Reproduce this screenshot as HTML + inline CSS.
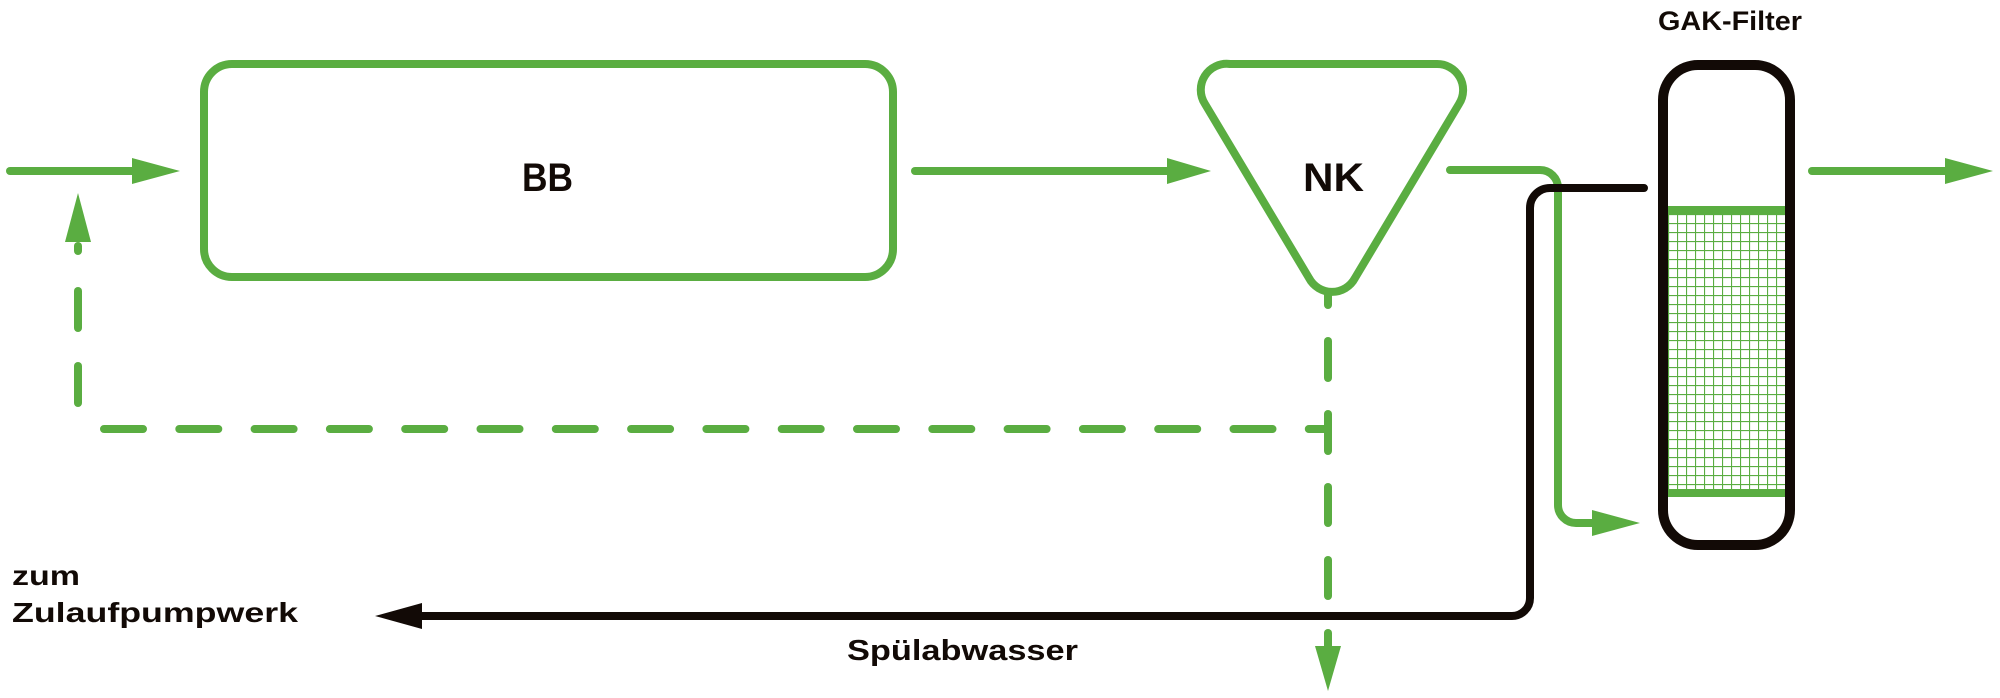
<!DOCTYPE html>
<html><head><meta charset="utf-8"><style>
html,body{margin:0;padding:0;background:#fff;}
svg{display:block;}
text{font-family:"Liberation Sans",sans-serif;font-weight:bold;fill:#120a06;}
</style></head><body>
<svg width="2000" height="698" viewBox="0 0 2000 698" xmlns="http://www.w3.org/2000/svg">
<defs>
<pattern id="grid" x="1668" y="214" width="9" height="9" patternUnits="userSpaceOnUse">
<path d="M0 0.5H9M0.5 0V9" stroke="#5aad41" stroke-width="1.2" fill="none"/>
</pattern>
</defs>
<g fill="none" stroke="#5aad41" stroke-width="8" stroke-linecap="round" stroke-linejoin="round">
<line x1="10" y1="171" x2="135" y2="171"/>
<rect x="204" y="64" width="689" height="213" rx="28"/>
<line x1="915" y1="171" x2="1170" y2="171"/>
<path d="M1230 64 H1436 A26 26 0 0 1 1459 104 L1355 278 A26 26 0 0 1 1309 278 L1205 104 A26 26 0 0 1 1230 64 Z"/>
<path d="M1450 170 H1540 A18 18 0 0 1 1558 188 V505 A18 18 0 0 0 1576 523 H1595"/>
<line x1="1812" y1="171" x2="1948" y2="171"/>
<path d="M104 429 H1328" stroke-dasharray="39 36.3"/>
<line x1="78" y1="246" x2="78" y2="251"/>
<line x1="78" y1="291" x2="78" y2="328"/>
<line x1="78" y1="366" x2="78" y2="403"/>
<line x1="1328" y1="294" x2="1328" y2="305"/>
<line x1="1328" y1="341" x2="1328" y2="378"/>
<line x1="1328" y1="414" x2="1328" y2="451"/>
<line x1="1328" y1="487" x2="1328" y2="523"/>
<line x1="1328" y1="560" x2="1328" y2="596"/>
<line x1="1328" y1="633" x2="1328" y2="648"/>
</g>
<g fill="#5aad41">
<polygon points="132,158 180,171 132,184"/>
<polygon points="1167,158 1211,171 1167,184"/>
<polygon points="1592,510 1640,523 1592,536"/>
<polygon points="1945,158 1993,171 1945,184"/>
<polygon points="65,242 78,193 91,242"/>
<polygon points="1315,646 1328,691 1341,646"/>
</g>
<rect x="1668" y="214" width="117" height="275" fill="url(#grid)"/>
<line x1="1666" y1="210" x2="1787" y2="210" stroke="#5aad41" stroke-width="8"/>
<line x1="1666" y1="493" x2="1787" y2="493" stroke="#5aad41" stroke-width="8"/>
<rect x="1663" y="65" width="127" height="480" rx="35" fill="none" stroke="#120a06" stroke-width="10"/>
<path d="M1644 188 H1550 A20 20 0 0 0 1530 208 V598 A18 18 0 0 1 1512 616 H420" fill="none" stroke="#120a06" stroke-width="8" stroke-linecap="round" stroke-linejoin="round"/>
<polygon points="422,603 375,616 422,629" fill="#120a06"/>
<text x="522" y="191" font-size="40" textLength="51" lengthAdjust="spacingAndGlyphs">BB</text>
<text x="1303" y="191" font-size="40" textLength="61" lengthAdjust="spacingAndGlyphs">NK</text>
<text x="1658" y="30" font-size="27" textLength="144" lengthAdjust="spacingAndGlyphs">GAK-Filter</text>
<text x="12" y="585" font-size="28" textLength="68" lengthAdjust="spacingAndGlyphs">zum</text>
<text x="12" y="622" font-size="28" textLength="286" lengthAdjust="spacingAndGlyphs">Zulaufpumpwerk</text>
<text x="847" y="660" font-size="29" textLength="231" lengthAdjust="spacingAndGlyphs">Spülabwasser</text>
</svg>
</body></html>
